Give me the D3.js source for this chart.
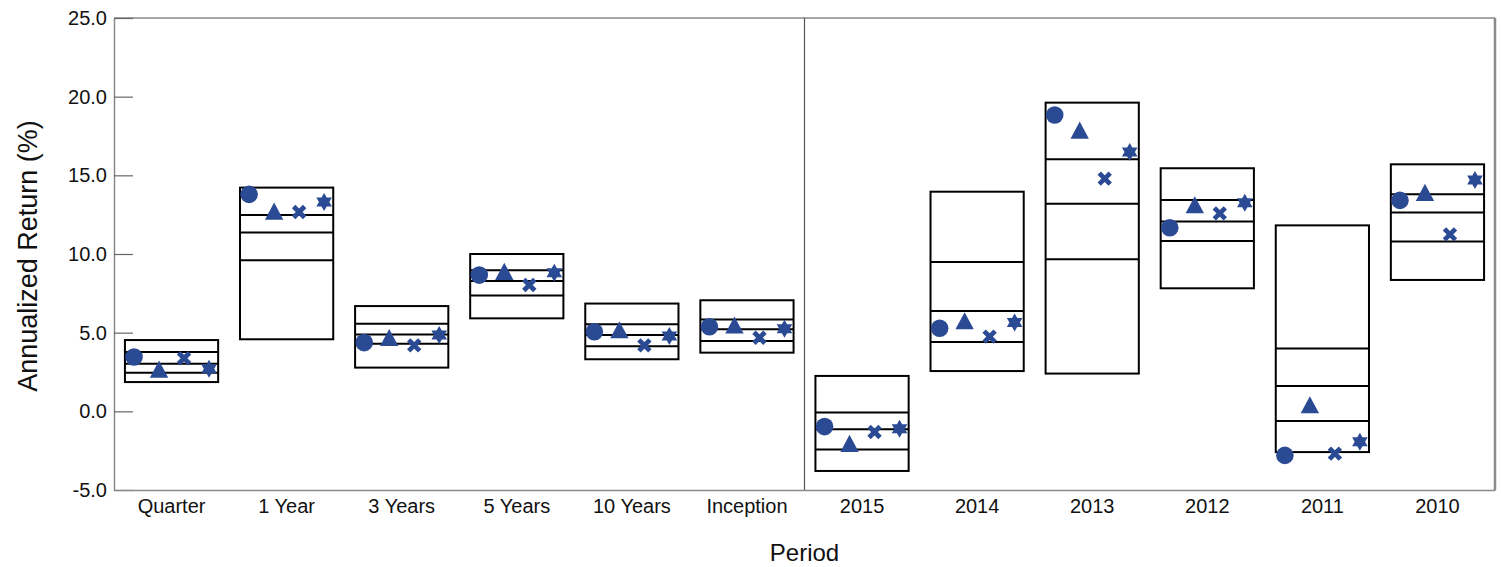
<!DOCTYPE html>
<html>
<head>
<meta charset="utf-8">
<script src="https://cdn.jsdelivr.net/npm/d3@7"></script>
<style>
  html, body { margin: 0; padding: 0; background: #fff; }
  svg { display: block; }
  text { font-family: "Liberation Sans", Arial, sans-serif; fill: #111; }
</style>
</head>
<body>
<svg id="chart" width="1501" height="567"></svg>
<script>
// ---- DATA ----
const categories = ["Quarter", "1 Year", "3 Years", "5 Years", "10 Years", "Inception",
                    "2015", "2014", "2013", "2012", "2011", "2010"];
// Box edges (top = highest percentile, bottom = lowest)
const boxTop    = [4.53, 14.22, 6.69, 10.00, 6.85, 7.06, 2.25, 13.96, 19.62, 15.45, 11.82, 15.70];
const boxUpper  = [3.77, 12.48, 5.57,  8.96, 5.53, 5.83, -0.08, 9.49, 16.02, 13.43,  4.00, 13.79];
const boxMedian = [3.03, 11.36, 4.89,  8.28, 4.85, 5.21, -1.14, 6.38, 13.20, 12.06,  1.61, 12.63];
const boxLower  = [2.46,  9.60, 4.30,  7.37, 4.13, 4.47, -2.42, 4.41,  9.66, 10.83, -0.61, 10.79];
const boxBottom = [1.86,  4.58, 2.78,  5.91, 3.31, 3.73, -3.79, 2.56,  2.40,  7.82, -2.59,  8.35];
// Series (markers)
const seriesNames = ["Circle", "Triangle", "Cross", "Star"];
const seriesCircle   = [3.45, 13.79, 4.37, 8.66, 5.06, 5.38, -0.97, 5.28, 18.83, 11.67, -2.80, 13.41];
const seriesTriangle = [2.67, 12.71, 4.68, 8.88, 5.17, 5.47, -2.05, 5.74, 17.86, 13.11,  0.40, 13.90];
const seriesCross    = [3.37, 12.67, 4.19, 8.03, 4.19, 4.68, -1.31, 4.75, 14.79, 12.58, -2.69, 11.25];
const seriesStar     = [2.71, 13.30, 4.85, 8.81, 4.79, 5.25, -1.10, 5.64, 16.48, 13.26, -1.93, 14.70];
const yTicks = [-5, 0, 5, 10, 15, 20, 25];

// ---- LAYOUT ----
const svg = d3.select("#chart");
const pL = 114, pR = 1495, pT = 18, pB = 490;
const markerColor = "#2b4a94";
const axisColor = "#8a8a8a";

const x = d3.scaleBand().domain(categories).range([pL, pR]).padding(0);
const y = d3.scaleLinear().domain([-5, 25]).range([pB, pT]);
const bw = x.bandwidth();
const boxW = bw * 0.81;
const inner = d3.scalePoint().domain(seriesNames).range([-37.5, 37.5]);

// Frame
svg.append("line").attr("x1", pL).attr("x2", pR).attr("y1", pT).attr("y2", pT)
  .attr("stroke", axisColor).attr("stroke-width", 1.5);
svg.append("line").attr("x1", pR).attr("x2", pR).attr("y1", pT).attr("y2", pB)
  .attr("stroke", axisColor).attr("stroke-width", 2.5);

// Divider between trailing periods and calendar years
svg.append("line")
  .attr("x1", x("2015")).attr("x2", x("2015"))
  .attr("y1", pT).attr("y2", pB)
  .attr("stroke", "#555").attr("stroke-width", 1.2);

// Y axis
const fmt = d3.format(".1f");
const yAxis = d3.axisLeft(y).tickValues(yTicks)
  .tickFormat(d => fmt(d).replace("\u2212", "-"))
  .tickSizeInner(-19).tickSizeOuter(0).tickPadding(7);
const gy = svg.append("g").attr("transform", `translate(${pL},0)`).call(yAxis);
gy.select(".domain").attr("stroke", axisColor).attr("stroke-width", 1.5);
gy.selectAll(".tick line").attr("stroke", "#666").attr("stroke-width", 1.2);
gy.selectAll(".tick text").attr("font-size", 20).attr("font-family", "Liberation Sans, Arial, sans-serif").attr("fill", "#111");

// X axis
const xAxis = d3.axisBottom(x).tickSize(0).tickPadding(9);
const gx = svg.append("g").attr("transform", `translate(0,${pB})`).call(xAxis);
gx.select(".domain").attr("stroke", axisColor).attr("stroke-width", 1.5);
gx.selectAll(".tick text").attr("font-size", 20).attr("font-family", "Liberation Sans, Arial, sans-serif").attr("fill", "#111");

// Axis titles
svg.append("text").attr("x", (pL + pR) / 2).attr("y", 561)
  .attr("text-anchor", "middle").attr("font-size", 24).text("Period");
svg.append("text")
  .attr("transform", `translate(37,${(pT + pB) / 2 + 2}) rotate(-90)`)
  .attr("text-anchor", "middle").attr("font-size", 27).text("Annualized Return (%)");

// Boxes
const boxes = categories.map((c, i) => ({
  c, hi: boxTop[i], upper: boxUpper[i], median: boxMedian[i], lower: boxLower[i], lo: boxBottom[i]
}));
const gb = svg.append("g");
boxes.forEach(b => {
  const cx = x(b.c) + bw / 2;
  gb.append("rect")
    .attr("x", cx - boxW / 2).attr("y", y(b.hi))
    .attr("width", boxW).attr("height", y(b.lo) - y(b.hi))
    .attr("fill", "none").attr("stroke", "#000").attr("stroke-width", 2);
  [b.upper, b.median, b.lower].forEach(v => {
    gb.append("line")
      .attr("x1", cx - boxW / 2).attr("x2", cx + boxW / 2)
      .attr("y1", y(v)).attr("y2", y(v))
      .attr("stroke", "#000").attr("stroke-width", 2);
  });
});

// Marker shapes
const circlePath = d3.symbol(d3.symbolCircle, Math.PI * 8.8 * 8.8)();
const trianglePath = "M0,-8.8L9.2,8.3L-9.2,8.3Z";
function hexagram(R) {
  const r = R / Math.sqrt(3);
  const pts = [];
  for (let k = 0; k < 12; k++) {
    const a = -Math.PI / 2 + k * Math.PI / 6;
    const rr = k % 2 === 0 ? R : r;
    pts.push([rr * Math.cos(a), rr * Math.sin(a)]);
  }
  return "M" + pts.map(p => p[0].toFixed(2) + "," + p[1].toFixed(2)).join("L") + "Z";
}
const starPath = hexagram(9);

const seriesValues = [seriesCircle, seriesTriangle, seriesCross, seriesStar];
const gm = svg.append("g");
seriesNames.forEach((s, si) => {
  const vals = seriesValues[si];
  categories.forEach((c, i) => {
    const cx = x(c) + bw / 2 + inner(s);
    const cy = y(vals[i]);
    const g = gm.append("g").attr("transform", `translate(${cx},${cy})`);
    if (s === "Circle") {
      g.append("path").attr("d", circlePath).attr("fill", markerColor);
    } else if (s === "Triangle") {
      g.append("path").attr("d", trianglePath).attr("fill", markerColor);
    } else if (s === "Cross") {
      g.append("path").attr("d", "M-5.5,-5.5L5.5,5.5M5.5,-5.5L-5.5,5.5")
        .attr("stroke", markerColor).attr("stroke-width", 4.8).attr("fill", "none");
    } else {
      g.append("path").attr("d", starPath).attr("fill", markerColor);
    }
  });
});
</script>
</body>
</html>
